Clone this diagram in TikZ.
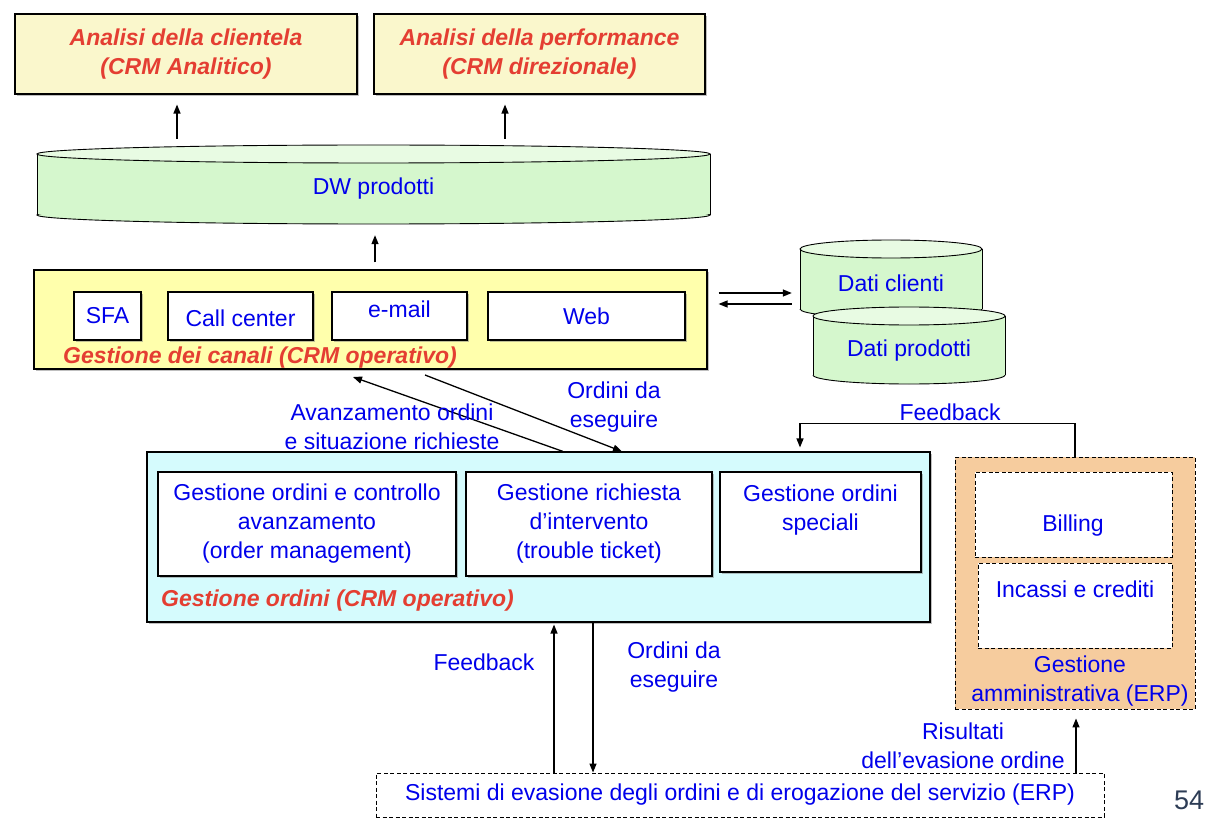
\documentclass[tikz,border=0pt]{standalone}
\usepackage{fontspec}
\setmainfont{Liberation Sans}
\usetikzlibrary{arrows.meta,shadows}
\definecolor{tblue}{RGB}{0,0,235}
\definecolor{tred}{RGB}{228,62,50}
\definecolor{yelA}{RGB}{250,247,204}
\definecolor{yelB}{RGB}{255,255,172}
\definecolor{cylbody}{RGB}{213,247,205}
\definecolor{cyltop}{RGB}{232,251,227}
\definecolor{cyanA}{RGB}{213,251,253}
\definecolor{peach}{RGB}{246,204,158}
\definecolor{pagenum}{RGB}{45,60,85}
\newcommand\mycyl[5]{%
 \fill[cylbody] (#1,#4) ellipse [x radius=#2pt, y radius=#5pt];
 \fill[cylbody] (#1-#2,#3) rectangle (#1+#2,#4);
 \begin{scope}
 \clip (#1-#2-3,#4) rectangle (#1+#2+3,#4+#5+3);
 \draw[line width=0.9pt] (#1,#4) ellipse [x radius=#2pt, y radius=#5pt];
 \end{scope}
 \draw[line width=0.9pt] (#1-#2,#3) -- (#1-#2,#4) (#1+#2,#3) -- (#1+#2,#4);
 \filldraw[fill=cyltop, line width=0.9pt] (#1,#3) ellipse [x radius=#2pt, y radius=#5pt];
}
\begin{document}
\begin{tikzpicture}[x=1pt,y=-1pt,
 font=\fontsize{23}{29}\selectfont,
 box/.style={draw=black, line width=1.1pt, inner sep=0pt, drop shadow={shadow xshift=2pt,shadow yshift=-2pt,fill=black!50,opacity=.5}},
 dbox/.style={draw=black, line width=0.9pt, dash pattern=on 4pt off 2.5pt, inner sep=0pt},
 bt/.style={text=tblue, align=center, inner sep=0pt},
 rt/.style={text=tred, font=\fontsize{23}{29}\selectfont\bfseries\itshape, align=center, inner sep=0pt},
 arr/.style={line width=1.3pt, -{Triangle[length=9pt,width=7pt]}},
]
\useasboundingbox[fill=white] (0,0) rectangle (1214,826);

% top boxes
\node[box, fill=yelA, minimum width=342pt, minimum height=80pt, rt] (a1) at (186,54) {Analisi della clientela\\(CRM Analitico)};
\node[box, fill=yelA, minimum width=331pt, minimum height=80pt, rt] (a2) at (539.5,54) {Analisi della performance\\(CRM direzionale)};

% DW cylinder
\mycyl{373.5}{336.5}{154}{215}{9}
\node[bt, minimum width=673pt, minimum height=79pt] (dw) at (373.5,189) {DW prodotti};

% Dati cylinders
\mycyl{891}{91}{249}{309}{9}
\node[bt, minimum width=182pt, minimum height=78pt] (dc) at (891,283) {Dati clienti};
\mycyl{909}{96}{316}{375}{9}
\node[bt, minimum width=192pt, minimum height=77pt] (dp) at (909,351) {Dati prodotti};

% channels
\node[box, fill=yelB, minimum width=673pt, minimum height=99pt] (ch) at (370.5,319.5) {};
\node[box, fill=white, minimum width=67pt, minimum height=48pt, bt] (sfa) at (107.5,316) {SFA};
\node[box, fill=white, minimum width=145pt, minimum height=48pt, bt] (cc) at (240.5,316) {\raisebox{-2pt}[\height][\depth]{Call center}};
\node[box, fill=white, minimum width=135pt, minimum height=48pt, bt] (em) at (399.5,316) {\raisebox{7pt}[\height][\depth]{e-mail}};
\node[box, fill=white, minimum width=197pt, minimum height=48pt, bt] (web) at (586.5,316) {Web};
\node[rt, anchor=west] (chl) at (63,358) {Gestione dei canali (CRM operativo)};

% orders
\node[box, fill=cyanA, minimum width=783pt, minimum height=170pt] (ord) at (538.5,537) {};
\node[box, fill=white, minimum width=298pt, minimum height=104pt, bt] (o1) at (307,524) {Gestione ordini e controllo\\avanzamento\\(order management)};
\node[box, fill=white, minimum width=246pt, minimum height=104pt, bt] (o2) at (589,524) {Gestione richiesta\\d’intervento\\(trouble ticket)};
\node[box, fill=white, minimum width=201pt, minimum height=100pt, bt] (o3) at (820.5,522) {Gestione ordini\\speciali\\\mbox{}};
\node[rt, anchor=west] (ordl) at (161,601) {Gestione ordini (CRM operativo)};

% administrative ERP
\node[dbox, fill=peach, minimum width=240pt, minimum height=252pt] (adm) at (1075,583) {};
\node[dbox, fill=white, minimum width=197pt, minimum height=85pt] (bill) at (1073.5,514.5) {};
\node[bt] (billt) at (1073,526) {Billing};
\node[dbox, fill=white, minimum width=194pt, minimum height=85pt] (inc) at (1075,605.5) {};
\node[bt] (inct) at (1075,589) {Incassi e crediti};
\node[bt] (admt) at (1080,681) {Gestione\\amministrativa (ERP)};

% bottom system
\node[dbox, fill=white, minimum width=728pt, minimum height=44pt, bt] (sys) at (740,795) {Sistemi di evasione degli ordini e di erogazione del servizio (ERP)};
\node[text=pagenum, inner sep=0pt, font=\fontsize{27}{30}\selectfont] (pg) at (1189,800) {54};

% arrows
\draw[arr, shorten <=10.5pt, shorten >=10pt] (dw.north -| 177,0) -- (a1.south -| 177,0);
\draw[arr, shorten <=10.5pt, shorten >=10pt] (dw.north -| 505,0) -- (a2.south -| 505,0);
\draw[arr, shorten <=7pt, shorten >=6.5pt] (ch.north -| 375,0) -- (dw.south -| 375,0);
\draw[arr, shorten <=11pt, shorten >=8pt] (ch.east |- 0,293) -- (dc.west |- 0,293);
\draw[arr, shorten <=8pt, shorten >=11pt] (dc.west |- 0,304) -- (ch.east |- 0,304);

\coordinate (avEnd) at (353,377);
\draw[arr] (ord.north -| 563,0) -- (avEnd);
\coordinate (odStart) at (425,375);
\draw[arr] (odStart) -- (ord.north -| 622,0);
\node[bt] (avl) at (392,427) {Avanzamento ordini\\e situazione richieste};
\node[bt] (odl) at (614,407) {Ordini da\\eseguire};

\draw[arr, shorten >=4pt] (adm.north -| 1075,0) -- ++(0,-33) -| (ord.north -| 800,0);
\node[bt] (fbl) at (950,412) {Feedback};

\draw[arr, shorten >=2pt] (sys.north -| 554,0) -- (ord.south -| 554,0);
\draw[arr] (ord.south -| 593,0) -- (sys.north -| 593,0);
\node[bt] (fb2) at (484,662) {Feedback};
\node[bt] (od2) at (674,667) {Ordini da\\eseguire};
\draw[arr, shorten >=9pt] (sys.north -| 1076,0) -- (adm.south -| 1076,0);
\node[bt] (rsl) at (963,746) {Risultati\\dell’evasione ordine};
\end{tikzpicture}
\end{document}
